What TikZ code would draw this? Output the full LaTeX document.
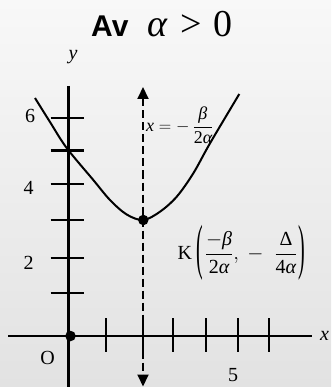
\documentclass[tikz,border=0pt]{standalone}
\usepackage{amsmath}
\usepackage{graphicx}
\usepackage{fontspec}
\setmainfont{Liberation Serif}
\newfontfamily\titlesans{Liberation Sans}
\usetikzlibrary{arrows.meta}
\definecolor{bgtop}{RGB}{248,248,248}
\definecolor{bgbot}{RGB}{226,226,226}
\newcommand{\ia}{\text{\itshape α}}
\newcommand{\ib}{\text{\itshape β}}
\newcommand{\ix}{\text{\itshape x}}
\newcommand{\tallparen}[1]{\raisebox{-8pt}{\scalebox{1}[3.05]{#1}}}
\begin{document}
\begin{tikzpicture}[x=1pt,y=-1pt,
  axisline/.style={line width=2.8pt},
  tickmark/.style={line width=2.2pt},
  curveline/.style={line width=2pt},
  numlbl/.style={inner sep=0pt,anchor=base,font=\fontsize{20}{24}\selectfont},
  mathlbl/.style={inner sep=0pt,anchor=base west,font=\fontsize{18}{22}\selectfont},
  dotmark/.style={circle,fill=black,inner sep=0pt,minimum size=10.5pt},
  symaxis/.style={line width=2pt,dash pattern=on 8pt off 4pt,>={Triangle[length=12pt,width=11pt]},<->}]
\useasboundingbox (0,0) rectangle (331,387);
\shade[top color=bgtop,bottom color=bgbot] (0,0) rectangle (331,387);
% title
\node[inner sep=0pt,anchor=base west,font=\titlesans\bfseries\fontsize{30}{36}\selectfont] (av) at (91,36.7) {Av};
\node[inner sep=0pt,anchor=base west,font=\fontsize{38}{44}\selectfont] (cond) at (147,37) {{\itshape α}\hspace{13pt}>\hspace{12pt}0};
% axes
\coordinate (ytop) at (68.5,86);
\coordinate (ybot) at (68.5,387);
\coordinate (xleft) at (8,336);
\coordinate (xright) at (312,336);
\draw[axisline] (ytop) -- (ybot);
\draw[axisline] (xleft) -- (xright);
\foreach \ty in {118,150.5,184,220,258.3,293.3}
  \draw[tickmark] (50.5,\ty) -- (84,\ty);
\foreach \tx in {106,142.7,173.3,205.7,237.7,268.7}
  \draw[tickmark] (\tx,318) -- (\tx,352);
% axis labels
\node[numlbl,font=\fontsize{20}{24}\selectfont\itshape] (ylab) at (73,60) {y};
\node[numlbl,anchor=base west,font=\fontsize{20}{24}\selectfont\itshape] (xlab) at (320,340) {x};
\node[numlbl] (l6) at (30,122.7) {6};
\node[numlbl] (l4) at (28.5,194) {4};
\node[numlbl] (l2) at (28.7,269) {2};
\node[numlbl] (l5) at (233,381.7) {5};
\node[numlbl] (lO) at (47.5,364) {O};
% axis of symmetry
\coordinate (stop) at (143,87);
\coordinate (sbot) at (143,386.5);
\draw[symaxis] (stop) -- (sbot);
% parabola
\draw[curveline] plot[smooth,tension=0.55] coordinates {(35,98) (50,122) (66.7,148) (93.3,180) (110,200) (126.7,214.5) (143.3,220) (160,211.7) (176.7,196.7) (193.3,173.3) (210,143.3) (239.3,94)};
% points
\node[dotmark] (O) at (70.5,336) {};
\node[dotmark] (K) at (143.3,220) {};
% labels
\node[mathlbl] (symlbl) at (146,131.5) {$\ix=-\,\dfrac{\ib}{\text{2}\ia}$};
\node[mathlbl,font=\fontsize{20}{24}\selectfont] (klbl) at (177.5,259.5) {K\hspace{4pt}\tallparen{(}$\hspace{2pt}\dfrac{-\ib}{\text{2}\ia},\hspace{5pt}-\hspace{11pt}\dfrac{\text{Δ}}{\text{4}\ia}\hspace{1pt}$\tallparen{)}};
\end{tikzpicture}
\end{document}
